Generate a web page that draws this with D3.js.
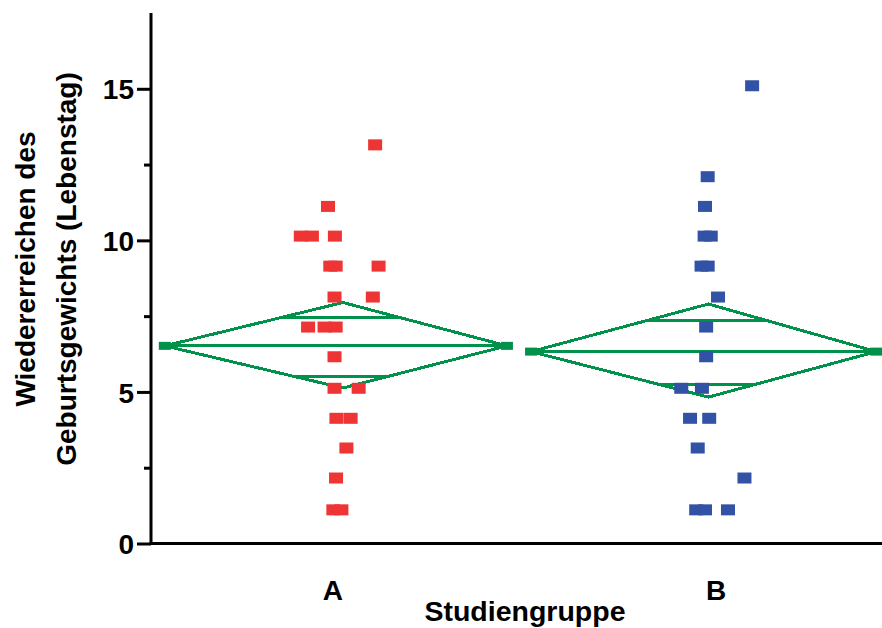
<!DOCTYPE html>
<html>
<head>
<meta charset="utf-8">
<script src="https://cdn.jsdelivr.net/npm/d3@7"></script>
<style>
  html, body { margin: 0; padding: 0; background: #fff; }
  svg { display: block; }
  text { font-family: "Liberation Sans", Arial, Helvetica, sans-serif; font-weight: bold; fill: #000; }
</style>
</head>
<body>
<svg id="chart" width="882" height="628"></svg>
<script>
// ---- data ----
const groups = ["A", "B"];
const yTicks = [0, 5, 10, 15];
const yMinorTicks = [2.5, 7.5, 12.5];
const xTitle = "Studiengruppe";
const yTitleLines = ["Wiedererreichen des", "Geburtsgewichts (Lebenstag)"];

const valuesA = [13.15, 11.12, 10.14, 10.14, 10.14, 9.15, 9.15, 9.15, 8.13, 8.13,
                 7.14, 7.14, 7.14, 6.16, 5.12, 5.12, 4.13, 4.13, 3.15, 2.16, 1.11, 1.11];
const jitterA = [0.110, -0.013, -0.084, -0.055, 0.005, -0.007, 0.007, 0.119, 0.004, 0.104,
                 -0.065, -0.022, 0.007, 0.004, 0.004, 0.067, 0.009, 0.046, 0.035, 0.008, 0.001, 0.022];
const valuesB = [15.1, 12.1, 11.12, 10.14, 10.14, 9.15, 9.15, 8.13, 7.14, 6.16,
                 5.12, 5.12, 4.13, 4.13, 3.15, 2.16, 1.11, 1.11, 1.11];
const jitterB = [0.094, -0.022, -0.029, -0.030, -0.014, -0.038, -0.022, 0.005, -0.026, -0.026,
                 -0.091, -0.037, -0.068, -0.018, -0.048, 0.074, -0.052, -0.029, 0.031];

// diamond summary per group
const means     = [6.52, 6.33];
const upperBand = [7.47, 7.37];
const lowerBand = [5.50, 5.23];
const peakHigh  = [7.95, 7.90];
const peakLow   = [5.13, 4.83];
const spanLeft  = [-0.439, -0.483];
const spanRight = [0.454, 0.418];
const peakShift = [0.026, -0.02];

// ---- layout ----
const svg = d3.select("#chart");
const plotLeft = 151, plotRight = 882, plotTop = 13, plotBottom = 543.5;
const x = d3.scaleLinear().domain([-0.475, 1.433]).range([plotLeft, plotRight]);
const y = d3.scaleLinear().domain([0, 17.5]).range([plotBottom, plotTop]);

const green = "#00914a";
const colors = ["#ee3434", "#3152a5"];

// diamonds
const g = svg.append("g");
groups.forEach((grp, i) => {
  const L = x(i + spanLeft[i]), R = x(i + spanRight[i]), P = x(i + peakShift[i]);
  const m = y(means[i]), top = y(peakHigh[i]), bot = y(peakLow[i]);
  const line = d3.line();
  const pathData = [[L, m], [P, top], [R, m], [P, bot], [L, m]];
  g.append("path").attr("d", line(pathData)).attr("fill", "none")
    .attr("stroke", green).attr("stroke-width", 3).attr("shape-rendering", "crispEdges");
  g.append("line").attr("x1", L).attr("x2", R).attr("y1", m).attr("y2", m)
    .attr("stroke", green).attr("stroke-width", 3).attr("shape-rendering", "crispEdges");
  const bandLine = (val, peakVal) => {
    const t = (val - means[i]) / (peakVal - means[i]);
    const x1 = L + (P - L) * t, x2 = R + (P - R) * t;
    g.append("line").attr("x1", x1).attr("x2", x2).attr("y1", y(val)).attr("y2", y(val))
      .attr("stroke", green).attr("stroke-width", 3).attr("shape-rendering", "crispEdges");
  };
  bandLine(upperBand[i], peakHigh[i]);
  bandLine(lowerBand[i], peakLow[i]);
  [L, R].forEach(vx => {
    g.append("rect").attr("x", vx - 6).attr("y", m - 4).attr("width", 12).attr("height", 8)
      .attr("fill", green);
  });
});

// points
const pts = svg.append("g");
const series = [[valuesA, jitterA], [valuesB, jitterB]];
series.forEach(([vals, jit], i) => {
  pts.selectAll(null).data(vals.map((v, k) => ({v, j: jit[k]}))).enter()
    .append("rect")
    .attr("x", d => x(i + d.j) - 7)
    .attr("y", d => y(d.v) - 5.5)
    .attr("width", 14).attr("height", 11)
    .attr("fill", colors[i]);
});

// y axis
const yAxis = d3.axisLeft(y).tickValues(yTicks).tickSize(14).tickPadding(3).tickFormat(d3.format("d"));
const ya = svg.append("g").attr("transform", `translate(${plotLeft},0)`).call(yAxis);
ya.select(".domain").remove();
ya.selectAll(".tick line").attr("stroke", "#000").attr("stroke-width", 3);
ya.selectAll(".tick text").attr("font-size", 28).attr("font-weight", "bold")
  .attr("font-family", "Liberation Sans, Arial, sans-serif").attr("dy", "0.36em");
const yMinor = d3.axisLeft(y).tickValues(yMinorTicks).tickSize(7).tickFormat("");
const ym = svg.append("g").attr("transform", `translate(${plotLeft},0)`).call(yMinor);
ym.select(".domain").remove();
ym.selectAll(".tick line").attr("stroke", "#000").attr("stroke-width", 3);

svg.append("line").attr("x1", plotLeft).attr("x2", plotLeft).attr("y1", plotTop).attr("y2", plotBottom + 1.5)
  .attr("stroke", "#000").attr("stroke-width", 3);
svg.append("line").attr("x1", plotLeft - 1.5).attr("x2", plotRight).attr("y1", plotBottom).attr("y2", plotBottom)
  .attr("stroke", "#000").attr("stroke-width", 3);

// x labels
svg.selectAll(null).data(groups).enter().append("text")
  .attr("x", (d, i) => x(i)).attr("y", 600)
  .attr("text-anchor", "middle").attr("font-size", 28).text(d => d);
svg.append("text").attr("x", 525).attr("y", 621).attr("text-anchor", "middle")
  .attr("font-size", 28.5).text(xTitle);

// y title
yTitleLines.forEach((t, i) => {
  svg.append("text").attr("transform", `translate(${[25, 66][i]},269) rotate(-90)`)
    .attr("text-anchor", "middle").attr("dy", "0.35em").attr("font-size", 28).text(t);
});
</script>
</body>
</html>
